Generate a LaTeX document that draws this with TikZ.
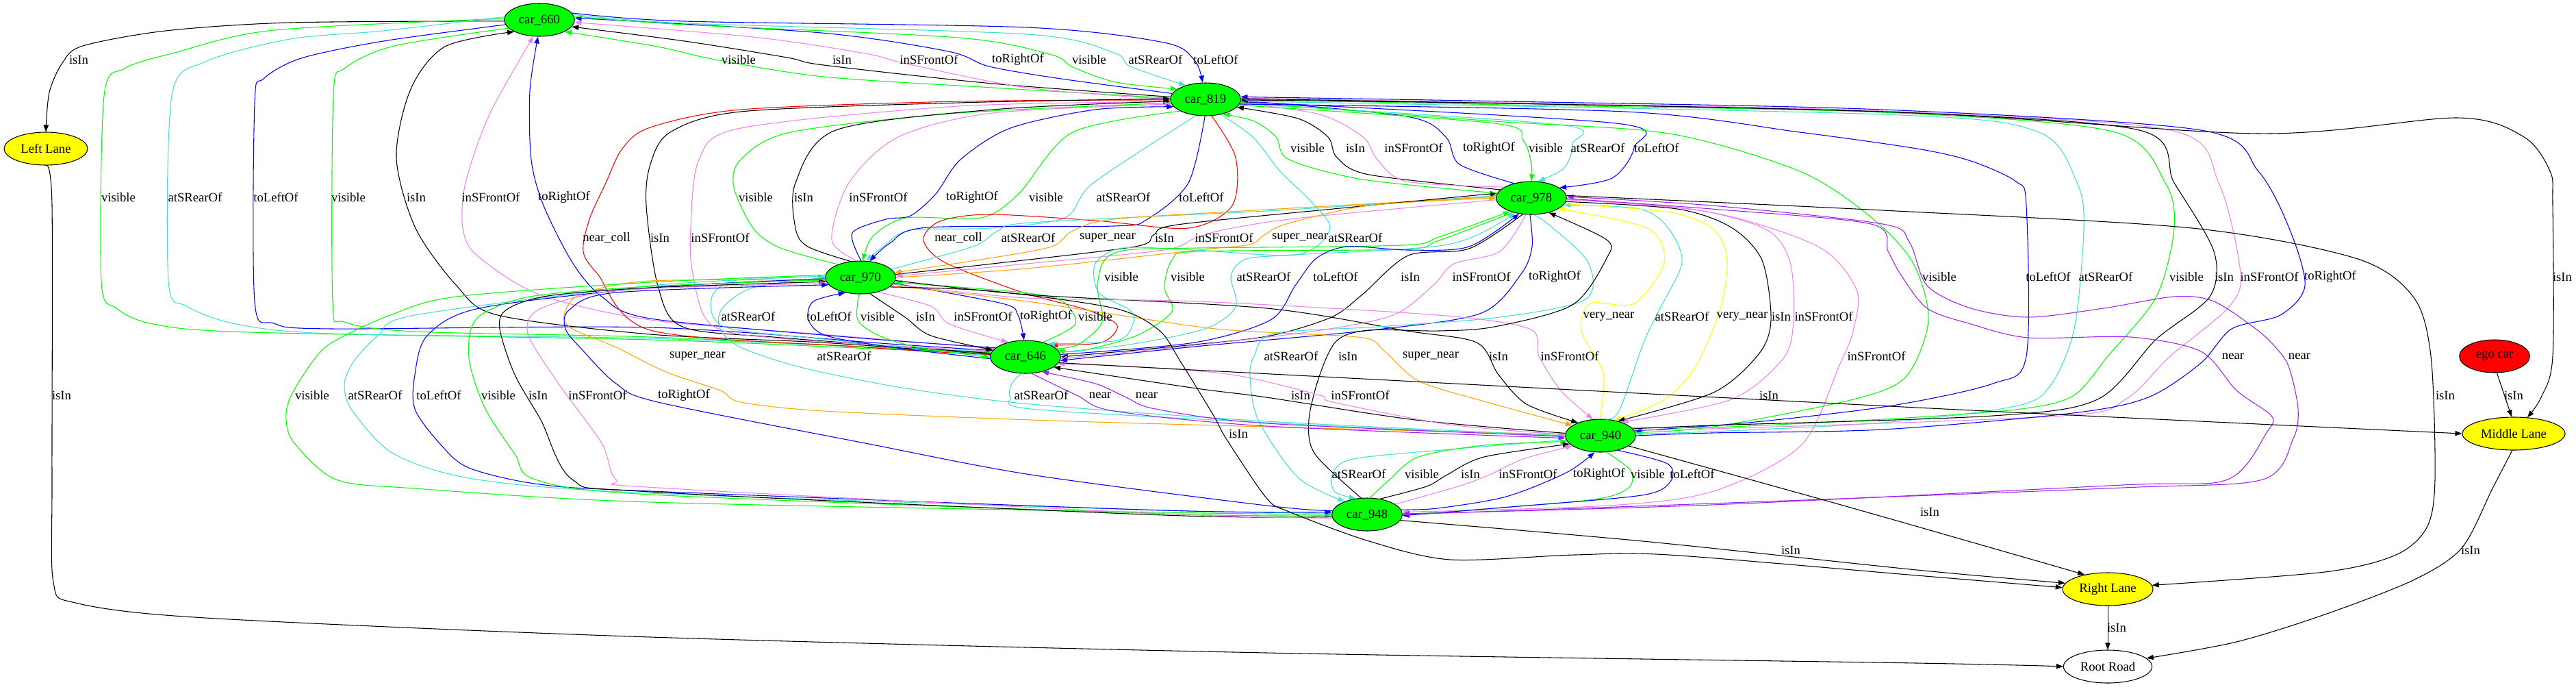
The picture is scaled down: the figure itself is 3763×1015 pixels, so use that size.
\documentclass[tikz,border=0pt]{standalone}
\usepackage{fontspec}
\setmainfont{Liberation Serif}
\usetikzlibrary{shapes.geometric,arrows.meta}
\definecolor{cG}{HTML}{00FF00}
\definecolor{cT}{HTML}{40E0D0}
\definecolor{cV}{HTML}{EE82EE}
\definecolor{cB}{HTML}{0000FF}
\definecolor{cR}{HTML}{FF0000}
\definecolor{cO}{HTML}{FFA500}
\definecolor{cY}{HTML}{FFFF00}
\definecolor{cP}{HTML}{A020F0}
\tikzset{
  car/.style={ellipse,draw,line width=0.8pt,fill=cG,minimum width=77pt,minimum height=36pt,inner sep=0pt,font=\fontsize{14}{16}\selectfont},
  lane/.style={car,fill=cY},
  ed/.style={line width=0.8pt,-{Triangle[length=7.5pt,width=5.5pt]}},
  lab/.style={inner sep=0pt,font=\fontsize{14}{16}\selectfont}
}
\newcommand\edg[2]{\draw[ed,#1] plot[smooth,tension=0.5] coordinates {#2};}
\newcommand\lbl[4]{\node[lab] (#1) at (#2,#3) {#4};}
\begin{document}
\begin{tikzpicture}[x=0.75pt,y=-0.75pt]
\fill[white] (0,0) rectangle (3763,1015);
\useasboundingbox (0,0) rectangle (3763,1015);
% nodes
\node[car] (c660) at (788,29) {car\_660};
\node[car] (c819) at (1761,145) {car\_819};
\node[car] (c978) at (2237,289) {car\_978};
\node[car] (c970) at (1257,405) {car\_970};
\node[car] (c646) at (1498,521) {car\_646};
\node[car] (c940) at (2338,636) {car\_940};
\node[car] (c948) at (1997,751) {car\_948};
\node[lane,minimum width=91.5pt] (ll) at (67,217) {Left Lane};
\node[car,fill=cR] (ego) at (3644,520) {ego car};
\node[lane,minimum width=112.5pt] (ml) at (3672,633) {Middle Lane};
\node[lane,minimum width=99pt] (rl) at (3079,860) {Right Lane};
\node[car,fill=white,minimum width=97pt] (rr) at (3079,973) {Root Road};
% lanes of 660
\edg{black}{(c660.182) (424,33) (242,45) (121,67) (91,92) (72,135) (ll.90)}
\edg{black}{(ll.272) (76,300) (76,700) (78,850) (110,880) (300,902) (950,930) (1850,953) (2800,968) (rr.180)}
% 660 - 819
\edg{cG}{(c819.178) (1450,128) (1203,112) (1045,87) (960,68) (c660.335)}
\edg{black}{(c819.176) (1450,122) (1203,95) (1150,84) (1000,60) (c660.348)}
\edg{cV}{(c819.180) (1500,128) (1324,93) (1264,78) (1100,54) (c660.356)}
\edg{cB}{(c819.170) (1550,115) (1445,97) (1385,75) (1200,48) (c660.3)}
\edg{cG}{(c660.6) (1000,36) (1400,55) (1536,80) (1567,98) (1630,120) (c819.160)}
\edg{cT}{(c660.9) (1000,34) (1500,50) (1627,77) (1651,97) (c819.145)}
\edg{cB}{(c660.12) (1000,31) (1500,40) (1700,62) (1745,88) (c819.100)}
% 660 - 646
\edg{cG}{(c660.178) (400,44) (255,77) (182,100) (152,140) (148,410) (170,450) (224,473) (364,485) (950,496) (1300,510) (c646.172)}
\edg{cT}{(c660.175) (560,45) (424,57) (300,90) (251,140) (246,410) (273,447) (345,473) (485,487) (950,494) (1300,508) (c646.171)}
\edg{cB}{(c660.188) (560,60) (440,85) (385,115) (372,150) (372,440) (400,472) (485,480) (950,478) (1300,502) (c646.169)}
\edg{cG}{(c660.195) (576,67) (503,100) (487,140) (486,440) (503,470) (606,484) (950,492) (1300,508) (c646.174)}
\edg{black}{(c646.176) (1200,500) (950,488) (727,460) (667,417) (607,333) (579,230) (600,130) (650,68) (c660.205)}
\edg{cV}{(c646.165) (1200,488) (950,467) (788,430) (697,373) (676,333) (680,267) (715,167) (c660.250)}
\edg{cB}{(c646.163) (1250,493) (950,465) (879,433) (836,383) (794,300) (776,233) (774,133) (c660.265)}
% 646 - 819 (left)
\edg{cR}{(c646.177) (1250,506) (950,482) (873,400) (852,367) (861,320) (885,267) (909,217) (950,186) (1082,160) (1400,148) (c819.181)}
\edg{black}{(c646.174) (1142,493) (997,477) (961,417) (944,300) (950,240) (979,193) (1082,163) (1400,150) (c819.179)}
\edg{cV}{(c646.170) (1150,495) (1040,475) (1012,400) (1009,333) (1021,233) (1082,187) (1400,155) (c819.184)}
% 819 - 970
\edg{cG}{(c970.150) (1140,362) (1100,333) (1072,273) (1082,233) (1155,193) (1400,165) (c819.186)}
\edg{black}{(c970.122) (1180,360) (1162,333) (1162,267) (1221,190) (1450,160) (c819.183)}
\edg{cV}{(c970.102) (1215,350) (1240,267) (1312,200) (1450,165) (c819.188)}
\edg{cB}{(c970.88) (1245,340) (1294,320) (1330,315) (1367,283) (1403,233) (1476,187) (1600,160) (c819.193)}
\edg{cG}{(c819.205) (1567,193) (1488,283) (1433,318) (1324,318) (1275,345) (c970.82)}
\edg{cT}{(c819.240) (1597,267) (1555,318) (1445,333) (1330,336) (1290,360) (c970.70)}
\edg{cB}{(c819.268) (1736,267) (1676,320) (1627,330) (1355,332) (1300,355) (c970.60)}
% near_coll 819 -> 646
\edg{cR}{(c819.290) (1805,230) (1800,300) (1736,333) (1600,322) (1445,313) (1373,323) (1349,350) (1380,383) (1494,427) (1590,453) (1632,475) (1609,500) (c646.25)}
% 970 - 978
\edg{cT}{(c970.15) (1421,360) (1458,337) (1506,325) (1850,308) (2050,295) (c978.176)}
\edg{cO}{(c978.178) (1850,306) (1627,320) (1567,337) (1536,360) (1445,377) (c970.8)}
\edg{black}{(c970.5) (1450,385) (1658,360) (1685,343) (1720,328) (1968,303) (c978.172)}
\edg{cV}{(c978.183) (1900,318) (1790,335) (1745,348) (1700,365) (1500,385) (c970.2)}
\edg{cO}{(c970.0) (1500,392) (1750,365) (1825,357) (1847,343) (1879,327) (2000,300) (c978.180)}
% atSRearOf 819 -> 646
\edg{cT}{(c819.315) (1830,200) (1870,250) (1914,293) (1943,330) (1923,360) (1879,373) (1745,365) (1640,362) (1600,385) (1605,427) (1651,453) (1655,473) (1632,497) (c646.30)}
% 646 - 978
\edg{cG}{(c646.15) (1575,503) (1610,470) (1603,420) (1613,380) (1647,365) (1750,362) (2048,358) (2102,346) (c978.212)}
\edg{cG}{(c978.218) (2102,351) (2048,364) (1750,367) (1712,380) (1701,420) (1712,455) (1660,490) (1580,512) (c646.12)}
\edg{cT}{(c646.8) (1650,503) (1760,480) (1805,448) (1798,403) (1818,379) (1870,373) (2115,357) (c978.222)}
\edg{cB}{(c646.4) (1745,500) (1856,467) (1892,417) (1923,377) (1968,360) (2057,365) (2146,360) (c978.232)}
\edg{black}{(c978.242) (2146,363) (2057,373) (1990,430) (1945,463) (1856,490) (1745,503) (c646.0)}
\edg{cV}{(c978.252) (2191,367) (2124,385) (2093,417) (2035,460) (1923,483) (1745,504) (c646.357)}
\edg{cB}{(c978.265) (2238,360) (2222,400) (2164,457) (2012,481) (1745,506) (c646.354)}
% 819 - 978
\edg{cG}{(c978.172) (1991,262) (1883,233) (1864,200) (1832,177) (c819.320)}
\edg{black}{(c978.165) (2000,255) (1953,230) (1940,200) (1896,173) (c819.346)}
\edg{cV}{(c978.158) (2055,265) (2012,233) (1991,200) (1928,167) (c819.354)}
\edg{cB}{(c978.140) (2132,240) (2112,200) (2055,170) (c819.358)}
\edg{cG}{(c819.350) (2183,180) (2225,205) (2237,240) (c978.90)}
\edg{cT}{(c819.353) (2278,182) (2297,210) (2285,245) (c978.68)}
\edg{cB}{(c819.356) (2361,180) (2387,215) (2355,260) (c978.20)}
% 970 - 646
\edg{cT}{(c646.178) (1203,495) (1058,477) (1040,433) (1080,408) (c970.179)}
\edg{cB}{(c646.183) (1303,507) (1207,490) (1181,467) (1188,440) (c970.225)}
\edg{cG}{(c970.265) (1253,467) (1284,490) (1341,507) (c646.181)}
\edg{black}{(c970.300) (1322,463) (1360,490) (c646.168)}
\edg{cV}{(c970.320) (1360,447) (1387,473) (c646.140)}
\edg{cB}{(c970.350) (1464,443) (1487,460) (c646.95)}
\edg{cG}{(c646.40) (1571,473) (1552,440) (1494,427) (c970.352)}
% 970 - 940
\edg{cO}{(c970.185) (950,410) (848,430) (824,460) (836,480) (900,507) (973,543) (1052,570) (1082,587) (1203,600) (1506,613) (1850,623) (c940.178)}
\edg{cT}{(c970.180) (1100,420) (1055,450) (1052,480) (1082,507) (1173,537) (1324,567) (1506,590) (1850,615) (c940.180)}
\edg{cO}{(c970.345) (1500,440) (1750,477) (1850,485) (1991,493) (2023,513) (2074,557) (2183,590) (c940.160)}
\edg{black}{(c970.355) (1500,430) (1850,450) (2055,483) (2157,500) (2189,547) (2230,590) (c940.150)}
\edg{cV}{(c970.348) (1500,435) (1750,440) (2100,460) (2234,480) (2248,520) (2280,570) (c940.115)}
% 978 - 948
\edg{cT}{(c978.280) (2265,330) (2320,383) (2316,437) (2191,463) (2012,477) (1860,487) (1832,520) (1826,550) (1838,613) (1896,697) (c948.150)}
\edg{black}{(c948.110) (1921,663) (1912,613) (1928,547) (1953,497) (2000,482) (2102,483) (2183,477) (2297,445) (2347,377) (2347,350) (c978.320)}
\edg{cV}{(c978.358) (2500,310) (2656,360) (2712,423) (2707,483) (2687,533) (2631,650) (2503,717) (2350,738) (c948.4)}
% 978 - 940
\edg{cY}{(c940.92) (2342,545) (2310,483) (2323,443) (2387,443) (2431,383) (2406,333) (c978.338)}
\edg{cT}{(c940.75) (2365,600) (2401,500) (2425,450) (2457,383) (2437,333) (2395,305) (c978.348)}
\edg{cY}{(c978.350) (2440,310) (2503,335) (2523,380) (2513,450) (2478,533) (2432,583) (c940.48)}
\edg{black}{(c978.354) (2450,305) (2529,332) (2574,380) (2587,467) (2569,517) (2503,573) (c940.40)}
\edg{cV}{(c978.357) (2470,305) (2580,335) (2615,383) (2620,467) (2605,523) (2529,583) (c940.33)}
% 646 - 940
\edg{cT}{(c646.255) (1478,560) (1476,580) (1506,597) (1850,617) (c940.182)}
\edg{cP}{(c646.290) (1573,577) (1627,600) (1850,622) (c940.184)}
\edg{cP}{(c940.181) (1850,618) (1688,597) (1645,580) (1600,560) (c646.318)}
\edg{black}{(c940.176) (2068,613) (1850,580) (1748,567) (c646.340)}
\edg{cV}{(c940.178) (2119,620) (1947,587) (1928,577) (1800,547) (1650,535) (c646.348)}
% 970 - 948
\edg{cG}{(c970.176) (950,412) (667,433) (570,460) (485,500) (455,530) (424,580) (418,613) (430,647) (491,700) (606,713) (950,733) (1700,748) (c948.180)}
\edg{cT}{(c970.178) (950,417) (606,460) (552,490) (515,530) (503,563) (515,600) (576,663) (697,700) (950,720) (1700,745) (c948.178)}
\edg{cB}{(c970.182) (950,420) (700,450) (624,490) (606,547) (606,597) (642,647) (685,683) (788,707) (950,717) (1700,745) (c948.176)}
\edg{cG}{(c948.182) (1700,750) (950,722) (782,700) (752,663) (709,597) (686,530) (688,480) (710,455) (780,432) (950,418) (c970.184)}
\edg{black}{(c948.184) (1700,752) (950,718) (836,700) (790,613) (752,547) (730,480) (740,452) (800,432) (950,420) (c970.187)}
\edg{cV}{(c948.186) (1700,750) (961,712) (900,700) (879,647) (818,563) (772,490) (782,455) (850,432) (950,421) (c970.190)}
\edg{cB}{(c948.174) (1850,738) (1506,693) (1264,647) (961,587) (900,560) (850,510) (826,480) (832,452) (900,427) (c970.193)}
% 948 - 940
\edg{cT}{(c940.187) (2130,655) (1977,670) (1946,693) (1950,718) (c948.125)}
\edg{cG}{(c948.80) (2030,700) (2072,667) (2168,650) (c940.190)}
\edg{black}{(c948.50) (2084,710) (2114,693) (2168,667) (c940.195)}
\edg{cV}{(c948.20) (2130,710) (2176,693) (2225,670) (c940.200)}
\edg{cB}{(c948.8) (2100,742) (2200,725) (2288,690) (c940.250)}
\edg{cG}{(c940.290) (2382,687) (2378,713) (2321,730) (2100,748) (c948.2)}
\edg{cB}{(c940.320) (2436,677) (2440,703) (2398,723) (2206,740) (c948.358)}
% 819 - 940
\edg{cG}{(c819.355) (2183,177) (2438,195) (2629,250) (2733,317) (2794,383) (2817,467) (2784,550) (2707,583) (2503,623) (c940.5)}
\edg{cB}{(c819.352) (2374,163) (2629,193) (2800,217) (2879,235) (2945,265) (2960,300) (2960,520) (2911,560) (2758,593) (2554,617) (c940.8)}
\edg{cT}{(c819.357) (2750,167) (2976,192) (3034,267) (3044,333) (3030,480) (2995,563) (2944,593) (2750,617) (2500,630) (c940.3)}
\edg{cG}{(c940.15) (2500,624) (2750,612) (2944,598) (3028,578) (3079,520) (3150,433) (3176,333) (3163,267) (3086,192) (2750,164) (2200,153) (c819.0)}
\edg{black}{(c940.12) (2500,621) (2911,607) (3064,583) (3150,495) (3228,433) (3234,367) (3176,267) (3125,190) (2750,163) (2200,151) (c819.359)}
\edg{cV}{(c940.10) (2500,626) (3013,607) (3105,583) (3170,520) (3254,450) (3273,400) (3241,267) (3170,190) (2750,162) (2200,150) (c819.2)}
\edg{cB}{(c940.0) (2500,632) (2750,627) (3028,603) (3138,580) (3215,530) (3260,480) (3331,460) (3367,417) (3344,333) (3299,250) (3215,190) (2750,160) (2200,148) (c819.4)}
% near 978 - 948
\edg{cP}{(c948.0) (2500,735) (3100,712) (3305,700) (3350,640) (3357,597) (3345,540) (3331,515) (3299,483) (3234,440) (3176,433) (3073,450) (2963,463) (2879,450) (2815,417) (2789,353) (2750,327) (2500,300) (c978.2)}
\edg{cP}{(c978.359) (2500,305) (2733,327) (2758,367) (2776,400) (2815,450) (2879,473) (2963,493) (3112,492) (3215,513) (3267,570) (3318,607) (3312,630) (3254,700) (3100,708) (2500,737) (c948.1)}
% lanes
\edg{black}{(c819.1) (2750,163) (3299,195) (3590,172) (3687,200) (3725,250) (3729,300) (3729,520) (3712,580) (ml.50)}
\edg{black}{(ego.278) (ml.97)}
\edg{black}{(ml.265) (3641,713) (3596,800) (3525,847) (3396,897) (3267,937) (rr.12)}
\edg{black}{(rl.270) (rr.90)}
\edg{black}{(c978.4) (2750,307) (3202,333) (3441,377) (3525,433) (3551,520) (3557,700) (3545,770) (3500,810) (3396,835) (rl.5)}
\edg{black}{(c940.340) (2700,740) (rl.148)}
\edg{black}{(c948.350) (2400,790) (2800,832) (rl.172)}
\edg{black}{(c970.342) (1450,425) (1628,450) (1693,482) (1724,527) (1773,607) (1791,640) (1850,727) (1883,747) (2000,790) (2119,817) (2300,810) (2438,810) (2800,840) (rl.178)}
\edg{black}{(c646.350) (1800,543) (2800,595) (ml.180)}
% labels
\lbl{a1}{115}{87}{isIn}
\lbl{a2}{1079}{87}{visible}
\lbl{a3}{1230}{87}{isIn}
\lbl{a4}{1357}{87}{inSFrontOf}
\lbl{a5}{1487}{87}{toRightOf}
\lbl{a6}{1591}{87}{visible}
\lbl{a7}{1688}{87}{atSRearOf}
\lbl{a8}{1776}{87}{toLeftOf}
\lbl{b1}{1910}{216}{visible}
\lbl{b2}{1980}{216}{isIn}
\lbl{b3}{2065}{216}{inSFrontOf}
\lbl{b4}{2175}{216}{toRightOf}
\lbl{b5}{2258}{216}{visible}
\lbl{b6}{2334}{216}{atSRearOf}
\lbl{b7}{2420}{216}{toLeftOf}
\lbl{c1}{173}{288}{visible}
\lbl{c2}{285}{288}{atSRearOf}
\lbl{c3}{403}{288}{toLeftOf}
\lbl{c4}{509}{288}{visible}
\lbl{c5}{608}{288}{isIn}
\lbl{c6}{717}{288}{inSFrontOf}
\lbl{c7}{824}{288}{toRightOf}
\lbl{c8}{1104}{288}{visible}
\lbl{c9}{1174}{288}{isIn}
\lbl{c10}{1283}{288}{inSFrontOf}
\lbl{c11}{1420}{288}{toRightOf}
\lbl{c12}{1528}{288}{visible}
\lbl{c13}{1641}{288}{atSRearOf}
\lbl{c14}{1755}{288}{toLeftOf}
\lbl{d1}{886}{347}{near\_coll}
\lbl{d2}{964}{347}{isIn}
\lbl{d3}{1052}{347}{inSFrontOf}
\lbl{d4}{1400}{347}{near\_coll}
\lbl{d5}{1502}{347}{atSRearOf}
\lbl{d6}{1618}{347}{super\_near}
\lbl{d7}{1701}{347}{isIn}
\lbl{d8}{1788}{347}{inSFrontOf}
\lbl{d9}{1899}{347}{super\_near}
\lbl{d10}{1980}{347}{atSRearOf}
\lbl{e1}{1638}{404}{visible}
\lbl{e2}{1735}{404}{visible}
\lbl{e3}{1846}{404}{atSRearOf}
\lbl{e4}{1951}{404}{toLeftOf}
\lbl{e5}{2060}{404}{isIn}
\lbl{e6}{2164}{404}{inSFrontOf}
\lbl{e7}{2271}{404}{toRightOf}
\lbl{e8}{2833}{404}{visible}
\lbl{e9}{2992}{404}{toLeftOf}
\lbl{e10}{3076}{404}{atSRearOf}
\lbl{e11}{3194}{404}{visible}
\lbl{e12}{3249}{404}{isIn}
\lbl{e13}{3315}{404}{inSFrontOf}
\lbl{e14}{3404}{404}{toRightOf}
\lbl{e15}{3743}{404}{isIn}
\lbl{f1}{1093}{462}{atSRearOf}
\lbl{f2}{1211}{462}{toLeftOf}
\lbl{f3}{1282}{462}{visible}
\lbl{f4}{1352}{462}{isIn}
\lbl{f5}{1436}{462}{inSFrontOf}
\lbl{f6}{1528}{462}{toRightOf}
\lbl{f7}{1600}{462}{visible}
\lbl{f8}{2350}{462}{very\_near}
\lbl{f9}{2457}{462}{atSRearOf}
\lbl{f10}{2545}{462}{very\_near}
\lbl{f11}{2602}{462}{isIn}
\lbl{f12}{2664}{462}{inSFrontOf}
\lbl{g1}{1019}{520}{super\_near}
\lbl{g2}{1233}{520}{atSRearOf}
\lbl{g3}{1886}{520}{atSRearOf}
\lbl{g4}{1969}{520}{isIn}
\lbl{g5}{2090}{520}{super\_near}
\lbl{g6}{2189}{520}{isIn}
\lbl{g7}{2293}{520}{inSFrontOf}
\lbl{g8}{2741}{520}{inSFrontOf}
\lbl{g9}{3262}{520}{near}
\lbl{g10}{3359}{520}{near}
\lbl{h1}{90}{577}{isIn}
\lbl{h2}{456}{577}{visible}
\lbl{h3}{548}{577}{atSRearOf}
\lbl{h4}{641}{577}{toLeftOf}
\lbl{h5}{728}{577}{visible}
\lbl{h6}{786}{577}{isIn}
\lbl{h7}{873}{577}{inSFrontOf}
\lbl{h8}{999}{577}{toRightOf}
\lbl{h9}{1521}{577}{atSRearOf}
\lbl{h10}{1607}{577}{near}
\lbl{h11}{1675}{577}{near}
\lbl{h12}{1900}{577}{isIn}
\lbl{h13}{1987}{577}{inSFrontOf}
\lbl{h14}{2584}{577}{isIn}
\lbl{h15}{3572}{577}{isIn}
\lbl{h16}{3672}{577}{isIn}
\lbl{i1}{1809}{633}{isIn}
\lbl{j1}{1985}{692}{atSRearOf}
\lbl{j2}{2077}{692}{visible}
\lbl{j3}{2148}{692}{isIn}
\lbl{j4}{2232}{692}{inSFrontOf}
\lbl{j5}{2336}{692}{toRightOf}
\lbl{j6}{2407}{692}{visible}
\lbl{j7}{2472}{692}{toLeftOf}
\lbl{k1}{2819}{747}{isIn}
\lbl{k2}{2616}{803}{isIn}
\lbl{k3}{3609}{803}{isIn}
\lbl{k4}{3092}{916}{isIn}
\end{tikzpicture}
\end{document}
